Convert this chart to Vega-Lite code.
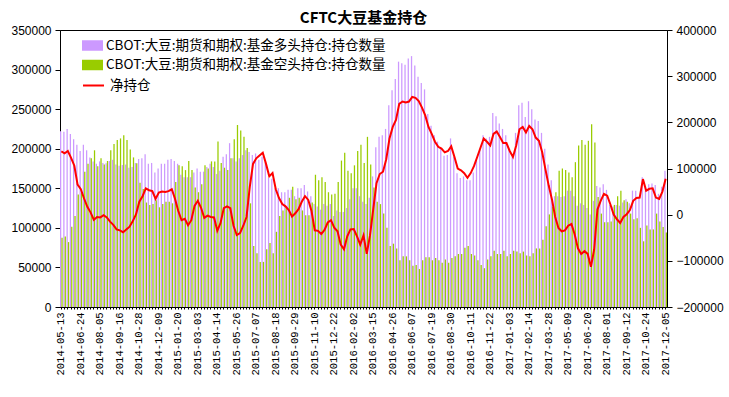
{
"$schema": "https://vega.github.io/schema/vega-lite/v6.json",
"width": 607, "height": 277,
"autosize": "none",
"padding": {"left": 60, "top": 30, "right": 62, "bottom": 90},
"background": "white",
"title": {"text": "CFTC大豆基金持仓", "fontSize": 15, "font": "Noto Sans CJK SC", "fontWeight": "bold", "anchor": "middle", "offset": -2, "color": "black"},
"config": {"view": {"stroke": "black", "strokeWidth": 1}, "axis": {"grid": false, "domainColor": "black", "tickColor": "black", "labelColor": "black", "titleColor": "black"}},
"data": {"values": [
{"d":"2014-05-13","L":222000,"S":87600,"N":137000},
{"d":"2014-05-20","L":221500,"S":89000,"N":133000},
{"d":"2014-05-27","L":225000,"S":82000,"N":138000},
{"d":"2014-06-03","L":218600,"S":101500,"N":123000},
{"d":"2014-06-10","L":212000,"S":115000,"N":106000},
{"d":"2014-06-17","L":205000,"S":142000,"N":65000},
{"d":"2014-06-24","L":197000,"S":144000,"N":55000},
{"d":"2014-07-01","L":205000,"S":171000,"N":35000},
{"d":"2014-07-08","L":198000,"S":181000,"N":17000},
{"d":"2014-07-15","L":189000,"S":188000,"N":5000},
{"d":"2014-07-22","L":184000,"S":198000,"N":-11000},
{"d":"2014-07-29","L":181000,"S":178000,"N":-5000},
{"d":"2014-08-05","L":184000,"S":188000,"N":-6000},
{"d":"2014-08-12","L":182000,"S":180000,"N":-1000},
{"d":"2014-08-19","L":181500,"S":184500,"N":-6000},
{"d":"2014-08-26","L":184500,"S":198000,"N":-15000},
{"d":"2014-09-02","L":186000,"S":206000,"N":-22000},
{"d":"2014-09-09","L":180000,"S":211000,"N":-32000},
{"d":"2014-09-16","L":178600,"S":213000,"N":-34000},
{"d":"2014-09-23","L":179400,"S":217000,"N":-38000},
{"d":"2014-09-30","L":180000,"S":211000,"N":-32000},
{"d":"2014-10-07","L":176000,"S":199000,"N":-26000},
{"d":"2014-10-14","L":177000,"S":189000,"N":-14000},
{"d":"2014-10-21","L":182000,"S":181500,"N":1000},
{"d":"2014-10-28","L":187000,"S":157000,"N":28000},
{"d":"2014-11-04","L":188000,"S":149000,"N":40000},
{"d":"2014-11-11","L":193000,"S":132000,"N":57000},
{"d":"2014-11-18","L":181000,"S":129000,"N":53000},
{"d":"2014-11-25","L":182000,"S":130000,"N":51000},
{"d":"2014-12-02","L":170000,"S":135000,"N":34000},
{"d":"2014-12-09","L":175000,"S":126000,"N":48000},
{"d":"2014-12-16","L":181000,"S":130000,"N":50000},
{"d":"2014-12-23","L":181000,"S":133000,"N":49000},
{"d":"2014-12-30","L":186000,"S":133000,"N":51000},
{"d":"2015-01-06","L":187000,"S":131000,"N":55000},
{"d":"2015-01-13","L":184500,"S":158000,"N":34000},
{"d":"2015-01-20","L":181000,"S":179000,"N":8000},
{"d":"2015-01-27","L":167000,"S":178000,"N":-12000},
{"d":"2015-02-03","L":164000,"S":173000,"N":-9000},
{"d":"2015-02-10","L":164000,"S":184500,"N":-23000},
{"d":"2015-02-17","L":164000,"S":173000,"N":-12000},
{"d":"2015-02-24","L":170000,"S":151000,"N":19000},
{"d":"2015-03-03","L":175000,"S":145000,"N":30000},
{"d":"2015-03-10","L":171000,"S":155000,"N":15000},
{"d":"2015-03-17","L":171000,"S":179000,"N":-7000},
{"d":"2015-03-24","L":177000,"S":175000,"N":-2000},
{"d":"2015-03-31","L":181000,"S":184000,"N":-5000},
{"d":"2015-04-07","L":177000,"S":184000,"N":-6000},
{"d":"2015-04-14","L":168000,"S":209000,"N":-35000},
{"d":"2015-04-21","L":172000,"S":182000,"N":-18000},
{"d":"2015-04-28","L":190000,"S":176000,"N":14000},
{"d":"2015-05-05","L":193000,"S":173000,"N":18000},
{"d":"2015-05-12","L":207000,"S":188000,"N":14000},
{"d":"2015-05-19","L":188000,"S":212000,"N":-24000},
{"d":"2015-05-26","L":184000,"S":230000,"N":-44000},
{"d":"2015-06-02","L":188000,"S":223000,"N":-40000},
{"d":"2015-06-09","L":192000,"S":215000,"N":-24000},
{"d":"2015-06-16","L":198000,"S":201000,"N":-5000},
{"d":"2015-06-23","L":196000,"S":131000,"N":60000},
{"d":"2015-06-30","L":192000,"S":77000,"N":110000},
{"d":"2015-07-07","L":194000,"S":68000,"N":122000},
{"d":"2015-07-14","L":186000,"S":57000,"N":128000},
{"d":"2015-07-21","L":190000,"S":57000,"N":134000},
{"d":"2015-07-28","L":183000,"S":73000,"N":110000},
{"d":"2015-08-04","L":163000,"S":81000,"N":83000},
{"d":"2015-08-11","L":162000,"S":68000,"N":90000},
{"d":"2015-08-18","L":150000,"S":95000,"N":55000},
{"d":"2015-08-25","L":150000,"S":115000,"N":36000},
{"d":"2015-09-01","L":145000,"S":122000,"N":23000},
{"d":"2015-09-08","L":145000,"S":127000,"N":18000},
{"d":"2015-09-15","L":148000,"S":138000,"N":10000},
{"d":"2015-09-22","L":148000,"S":152000,"N":-4000},
{"d":"2015-09-29","L":140000,"S":136000,"N":3000},
{"d":"2015-10-06","L":150000,"S":138000,"N":12000},
{"d":"2015-10-13","L":150000,"S":122000,"N":28000},
{"d":"2015-10-20","L":154000,"S":116000,"N":40000},
{"d":"2015-10-27","L":146000,"S":116000,"N":32000},
{"d":"2015-11-03","L":140000,"S":132000,"N":8000},
{"d":"2015-11-10","L":130000,"S":167000,"N":-34000},
{"d":"2015-11-17","L":127000,"S":160000,"N":-35000},
{"d":"2015-11-24","L":123000,"S":164000,"N":-42000},
{"d":"2015-12-01","L":130000,"S":158000,"N":-33000},
{"d":"2015-12-08","L":128000,"S":145000,"N":-17000},
{"d":"2015-12-15","L":130000,"S":142000,"N":-12000},
{"d":"2015-12-22","L":115000,"S":143000,"N":-28000},
{"d":"2015-12-29","L":122000,"S":158000,"N":-36000},
{"d":"2016-01-05","L":120000,"S":185000,"N":-65000},
{"d":"2016-01-12","L":120000,"S":195000,"N":-75000},
{"d":"2016-01-19","L":125000,"S":172000,"N":-47000},
{"d":"2016-01-26","L":136000,"S":169000,"N":-32000},
{"d":"2016-02-02","L":150000,"S":179000,"N":-31000},
{"d":"2016-02-09","L":150000,"S":197000,"N":-47000},
{"d":"2016-02-16","L":140000,"S":205000,"N":-65000},
{"d":"2016-02-23","L":133000,"S":182000,"N":-45000},
{"d":"2016-03-01","L":130000,"S":215000,"N":-85000},
{"d":"2016-03-08","L":138000,"S":180000,"N":-45000},
{"d":"2016-03-15","L":165000,"S":151000,"N":12000},
{"d":"2016-03-22","L":202000,"S":133000,"N":68000},
{"d":"2016-03-29","L":215000,"S":130000,"N":88000},
{"d":"2016-04-05","L":217000,"S":118000,"N":93000},
{"d":"2016-04-12","L":225000,"S":100000,"N":120000},
{"d":"2016-04-19","L":255000,"S":77000,"N":165000},
{"d":"2016-04-26","L":274000,"S":80000,"N":190000},
{"d":"2016-05-03","L":288000,"S":74000,"N":205000},
{"d":"2016-05-10","L":310000,"S":59000,"N":240000},
{"d":"2016-05-17","L":308000,"S":64000,"N":245000},
{"d":"2016-05-24","L":306000,"S":64000,"N":243000},
{"d":"2016-05-31","L":314000,"S":59000,"N":245000},
{"d":"2016-06-07","L":317000,"S":52000,"N":255000},
{"d":"2016-06-14","L":305000,"S":53000,"N":253000},
{"d":"2016-06-21","L":291000,"S":48000,"N":246000},
{"d":"2016-06-28","L":283000,"S":59000,"N":232000},
{"d":"2016-07-05","L":275000,"S":63000,"N":215000},
{"d":"2016-07-12","L":244000,"S":63000,"N":190000},
{"d":"2016-07-19","L":229000,"S":59000,"N":175000},
{"d":"2016-07-26","L":217000,"S":62000,"N":158000},
{"d":"2016-08-02","L":209000,"S":59000,"N":147000},
{"d":"2016-08-09","L":200000,"S":56000,"N":143000},
{"d":"2016-08-16","L":191000,"S":60000,"N":135000},
{"d":"2016-08-23","L":192000,"S":56000,"N":138000},
{"d":"2016-08-30","L":213000,"S":62000,"N":148000},
{"d":"2016-09-06","L":190000,"S":64000,"N":125000},
{"d":"2016-09-13","L":169000,"S":67000,"N":100000},
{"d":"2016-09-20","L":163000,"S":67000,"N":96000},
{"d":"2016-09-27","L":165000,"S":75000,"N":90000},
{"d":"2016-10-04","L":160000,"S":77000,"N":80000},
{"d":"2016-10-11","L":160000,"S":67000,"N":90000},
{"d":"2016-10-18","L":170000,"S":65000,"N":105000},
{"d":"2016-10-25","L":185000,"S":59000,"N":125000},
{"d":"2016-11-01","L":200000,"S":53000,"N":145000},
{"d":"2016-11-08","L":217000,"S":49000,"N":165000},
{"d":"2016-11-15","L":213000,"S":60000,"N":158000},
{"d":"2016-11-22","L":215000,"S":64000,"N":150000},
{"d":"2016-11-29","L":245000,"S":71000,"N":175000},
{"d":"2016-12-06","L":241000,"S":67000,"N":180000},
{"d":"2016-12-13","L":232000,"S":67000,"N":168000},
{"d":"2016-12-20","L":225000,"S":71000,"N":155000},
{"d":"2016-12-27","L":217000,"S":64000,"N":155000},
{"d":"2017-01-03","L":200000,"S":67000,"N":138000},
{"d":"2017-01-10","L":190000,"S":71000,"N":125000},
{"d":"2017-01-17","L":220000,"S":70000,"N":150000},
{"d":"2017-01-24","L":255000,"S":68000,"N":185000},
{"d":"2017-01-31","L":258000,"S":70000,"N":190000},
{"d":"2017-02-07","L":240000,"S":65000,"N":178000},
{"d":"2017-02-14","L":260000,"S":64000,"N":192000},
{"d":"2017-02-21","L":250000,"S":68000,"N":185000},
{"d":"2017-02-28","L":237000,"S":74000,"N":167000},
{"d":"2017-03-07","L":235000,"S":74000,"N":160000},
{"d":"2017-03-14","L":220000,"S":85000,"N":135000},
{"d":"2017-03-21","L":200000,"S":102000,"N":98000},
{"d":"2017-03-28","L":180000,"S":117000,"N":63000},
{"d":"2017-04-04","L":160000,"S":127000,"N":33000},
{"d":"2017-04-11","L":140000,"S":145000,"N":-5000},
{"d":"2017-04-18","L":140000,"S":172000,"N":-29000},
{"d":"2017-04-25","L":139000,"S":175000,"N":-36000},
{"d":"2017-05-02","L":140000,"S":173000,"N":-34000},
{"d":"2017-05-09","L":147000,"S":170000,"N":-24000},
{"d":"2017-05-16","L":147000,"S":164000,"N":-20000},
{"d":"2017-05-23","L":140000,"S":183000,"N":-43000},
{"d":"2017-05-30","L":128000,"S":204000,"N":-73000},
{"d":"2017-06-06","L":131000,"S":211000,"N":-85000},
{"d":"2017-06-13","L":129000,"S":205000,"N":-79000},
{"d":"2017-06-20","L":125000,"S":210000,"N":-85000},
{"d":"2017-06-27","L":117000,"S":231000,"N":-113000},
{"d":"2017-07-04","L":134000,"S":208000,"N":-75000},
{"d":"2017-07-11","L":153000,"S":139000,"N":11000},
{"d":"2017-07-18","L":151000,"S":118000,"N":30000},
{"d":"2017-07-25","L":155000,"S":107000,"N":45000},
{"d":"2017-08-01","L":148000,"S":107000,"N":41000},
{"d":"2017-08-08","L":129000,"S":108000,"N":22000},
{"d":"2017-08-15","L":127000,"S":129000,"N":0},
{"d":"2017-08-22","L":129000,"S":140000,"N":-10000},
{"d":"2017-08-29","L":128000,"S":147000,"N":-18000},
{"d":"2017-09-05","L":132000,"S":135000,"N":-5000},
{"d":"2017-09-12","L":136000,"S":133000,"N":1000},
{"d":"2017-09-19","L":131000,"S":118000,"N":10000},
{"d":"2017-09-26","L":147000,"S":111000,"N":30000},
{"d":"2017-10-03","L":147000,"S":112000,"N":36000},
{"d":"2017-10-10","L":139000,"S":100000,"N":37000},
{"d":"2017-10-17","L":164000,"S":83000,"N":77000},
{"d":"2017-10-24","L":151000,"S":103000,"N":52000},
{"d":"2017-10-31","L":155000,"S":98000,"N":56000},
{"d":"2017-11-07","L":156000,"S":98000,"N":57000},
{"d":"2017-11-14","L":154000,"S":118000,"N":37000},
{"d":"2017-11-21","L":143000,"S":108000,"N":34000},
{"d":"2017-11-28","L":152000,"S":101000,"N":50000},
{"d":"2017-12-05","L":172000,"S":94000,"N":78000}
]},
"layer": [
{
"transform": [{"fold": ["L", "S"], "as": ["k", "v"]}],
"mark": {"type": "bar"},
"encoding": {
"x": {"field": "d", "type": "ordinal", "scale": {"paddingInner": 0.18, "paddingOuter": 0},
"axis": {"title": null, "labelAngle": 270, "labelAlign": "right", "labelBaseline": "middle", "labelOverlap": false, "labelFont": "Liberation Mono", "labelFontSize": 10.5, "labelPadding": 3, "tickSize": 2, "domainColor": "black",
"labelExpr": "round((toDate(datum.value) - toDate('2014-05-13')) / 604800000) % 6 == 0 ? datum.value : ''"}},
"xOffset": {"field": "k", "type": "nominal", "scale": {"domain": ["L", "S"], "paddingInner": 0.1}},
"y": {"field": "v", "type": "quantitative", "scale": {"domain": [0, 350000], "nice": false},
"axis": {"title": null, "values": [0, 50000, 100000, 150000, 200000, 250000, 300000, 350000], "format": "d", "labelFont": "Liberation Sans", "labelFontSize": 12, "tickSize": 5, "labelPadding": 4}},
"color": {"field": "k", "type": "nominal", "scale": {"domain": ["L", "S"], "range": ["#CC99FF", "#99CC00"]},
"legend": {"title": null, "orient": "none", "legendX": 22, "legendY": 5, "padding": 0, "symbolType": "M-1,-0.5H1V0.5H-1Z", "symbolSize": 441, "symbolStrokeWidth": 0, "symbolOpacity": 1, "labelFont": "Noto Sans CJK SC", "labelFontSize": 13.5, "labelColor": "black", "labelOffset": 3, "rowPadding": 2.5, "labelLimit": 400,
"labelExpr": "datum.value == 'L' ? 'CBOT:大豆:期货和期权:基金多头持仓:持仓数量' : 'CBOT:大豆:期货和期权:基金空头持仓:持仓数量'"}}
}
},
{
"mark": {"type": "line", "strokeWidth": 2, "interpolate": "linear"},
"encoding": {
"x": {"field": "d", "type": "ordinal"},
"y": {"field": "N", "type": "quantitative", "scale": {"domain": [-200000, 400000], "nice": false},
"axis": {"title": null, "orient": "right", "values": [-200000, -100000, 0, 100000, 200000, 300000, 400000], "format": "d", "labelFont": "Liberation Sans", "labelFontSize": 12, "tickSize": 5, "labelPadding": 4}},
"stroke": {"datum": "净持仓", "type": "nominal", "scale": {"range": ["#FF0000"]},
"legend": {"title": null, "orient": "none", "legendX": 22, "legendY": 44, "padding": 0, "symbolType": "stroke", "symbolSize": 441, "symbolStrokeWidth": 2, "labelFont": "Noto Sans CJK SC", "labelFontSize": 13.5, "labelColor": "black", "labelOffset": 5}}
}
}
],
"resolve": {"scale": {"y": "independent"}}
}
